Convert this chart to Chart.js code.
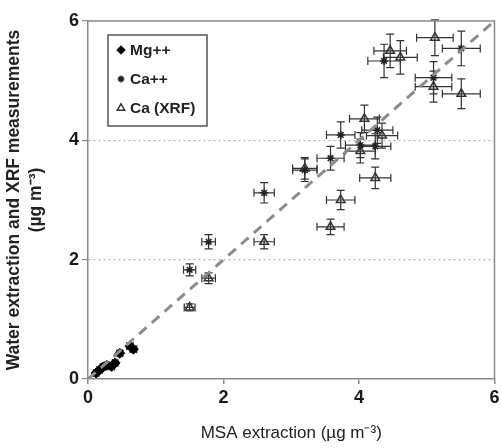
<!DOCTYPE html>
<html>
<head>
<meta charset="utf-8">
<script src="https://cdn.jsdelivr.net/npm/chart.js@4"></script>
<style>
html,body{margin:0;padding:0;background:#fff;}
#wrap{width:501px;height:448px;}
</style>
</head>
<body>
<div id="wrap"><canvas id="chart" width="501" height="448"></canvas></div>
<script>
// Mg++ (water extraction) vs MSA
const mgX   =[0.12,0.17,0.22,0.28,0.35,0.40,0.47,0.62,0.67];
const mgY   =[0.10,0.15,0.20,0.23,0.21,0.27,0.43,0.55,0.50];
const mgXErr=[0.04,0.04,0.04,0.04,0.04,0.04,0.04,0.05,0.05];
const mgYErr=[0.03,0.03,0.03,0.03,0.03,0.03,0.04,0.05,0.05];

// Ca++ (water extraction)
const caX   =[1.50,1.78,2.60,3.20,3.58,3.73,4.02,4.27,4.24,4.37,5.10,5.51];
const caY   =[1.83,2.30,3.12,3.50,3.70,4.09,3.92,4.17,3.90,5.33,5.05,5.54];
const caXErr=[0.09,0.10,0.15,0.18,0.20,0.21,0.22,0.23,0.23,0.24,0.27,0.28];
const caYErr=[0.10,0.12,0.17,0.19,0.20,0.22,0.21,0.22,0.21,0.28,0.27,0.29];

// Ca (XRF)
const xrfX   =[1.50,1.78,2.60,3.20,3.58,3.73,4.02,4.08,4.34,4.24,4.46,4.61,5.12,5.10,5.51];
const xrfY   =[1.20,1.69,2.30,3.53,2.55,3.00,3.82,4.36,4.08,3.37,5.50,5.39,5.72,4.90,4.78];
const xrfXErr=[0.08,0.10,0.15,0.18,0.20,0.21,0.22,0.22,0.23,0.23,0.24,0.25,0.27,0.27,0.28];
const xrfYErr=[0.06,0.09,0.12,0.18,0.13,0.16,0.20,0.23,0.21,0.18,0.28,0.28,0.30,0.26,0.25];

const oneToOne=[0,6];
const axisTicks=[0,2,4,6];

function pts(xs,ys,xe,ye){
    return xs.map((x,i)=>({x:x,y:ys[i],xe:xe[i],ye:ye[i]}));
}

// error bars drawn through the scales
const errorBars={
    id:"errorBars",
    beforeDatasetsDraw(chart){
        const ctx=chart.ctx;
        const xs=chart.scales.x, ys=chart.scales.y;
        ctx.save();
        ctx.strokeStyle="#333";
        ctx.lineWidth=1.2;
        chart.data.datasets.forEach(ds=>{
            if(ds.type==="line") return;
            ds.data.forEach(p=>{
                const px=xs.getPixelForValue(p.x), py=ys.getPixelForValue(p.y);
                const x0=xs.getPixelForValue(p.x-p.xe), x1=xs.getPixelForValue(p.x+p.xe);
                const y0=ys.getPixelForValue(p.y-p.ye), y1=ys.getPixelForValue(p.y+p.ye);
                const c=4;
                ctx.beginPath();
                ctx.moveTo(x0,py);ctx.lineTo(x1,py);
                ctx.moveTo(x0,py-c);ctx.lineTo(x0,py+c);
                ctx.moveTo(x1,py-c);ctx.lineTo(x1,py+c);
                ctx.moveTo(px,y0);ctx.lineTo(px,y1);
                ctx.moveTo(px-c,y0);ctx.lineTo(px+c,y0);
                ctx.moveTo(px-c,y1);ctx.lineTo(px+c,y1);
                ctx.stroke();
            });
        });
        ctx.restore();
    }
};

// frame + legend box inside plot
const frameLegend={
    id:"frameLegend",
    afterDraw(chart){
        const ctx=chart.ctx, a=chart.chartArea;
        ctx.save();
        ctx.strokeStyle="#8a8a8a";
        ctx.lineWidth=1.5;
        ctx.beginPath();
        ctx.moveTo(a.left,a.top);ctx.lineTo(a.right,a.top);ctx.lineTo(a.right,a.bottom);
        ctx.stroke();

        const bx=108,by=35,bw=99,bh=91;
        ctx.fillStyle="#fff";
        ctx.fillRect(bx,by,bw,bh);
        ctx.strokeStyle="#555";
        ctx.lineWidth=1.5;
        ctx.strokeRect(bx,by,bw,bh);
        ctx.font="bold 15.5px Arial, 'Liberation Sans', sans-serif";
        ctx.textBaseline="middle";
        const rows=[50,79,108];
        chart.data.datasets.filter(d=>d.type!=="line").forEach((ds,i)=>{
            const cy=rows[i];
            ctx.fillStyle=ds.backgroundColor;
            ctx.strokeStyle=ds.borderColor;
            ctx.lineWidth=ds.borderWidth;
            Chart.helpers.drawPoint(ctx,{
                pointStyle:ds.pointStyle,rotation:0,
                radius:ds.pointRadius*0.85,borderWidth:ds.borderWidth
            },121,cy);
            ctx.fillStyle="#222";
            ctx.fillText(ds.label,130,cy+1);
        });
        ctx.restore();
    }
};

const ctx=document.getElementById("chart").getContext("2d");
Chart.defaults.font.family="Arial, 'Liberation Sans', sans-serif";
Chart.defaults.color="#222";

new Chart(ctx,{
    type:"scatter",
    data:{
        datasets:[
            {
                type:"line",label:"1:1",
                data:oneToOne.map(v=>({x:v,y:v})),
                borderColor:"#8c8c8c",borderWidth:3,borderDash:[10,7],
                pointRadius:0,fill:false
            },
            {
                label:"Mg++",data:pts(mgX,mgY,mgXErr,mgYErr),
                pointStyle:"rectRot",pointRadius:5,
                backgroundColor:"#000",borderColor:"#000",borderWidth:1
            },
            {
                label:"Ca++",data:pts(caX,caY,caXErr,caYErr),
                pointStyle:"star",pointRadius:4,
                backgroundColor:"#222",borderColor:"#222",borderWidth:1.5
            },
            {
                label:"Ca (XRF)",data:pts(xrfX,xrfY,xrfXErr,xrfYErr),
                pointStyle:"triangle",pointRadius:5,
                backgroundColor:"rgba(255,255,255,0)",borderColor:"#333",borderWidth:1.5
            }
        ]
    },
    options:{
        responsive:false,
        animation:false,
        layout:{padding:{top:21,right:4,left:3,bottom:0}},
        plugins:{legend:{display:false},tooltip:{enabled:false}},
        scales:{
            x:{
                type:"linear",min:0,max:6,
                afterBuildTicks(s){s.ticks=axisTicks.map(v=>({value:v}));},
                afterFit(s){s.height=69;s.paddingRight=0;s.paddingLeft=0;},
                ticks:{font:{size:18,weight:"bold"},color:"#1a1a1a",padding:3,maxRotation:0},
                grid:{drawOnChartArea:false,tickLength:5,color:"#8a8a8a",lineWidth:1.5},
                border:{color:"#8a8a8a",width:1.5},
                title:{display:true,text:"MSA extraction (\u00b5g m\u207b\u00b3)",font:{size:17},color:"#222",padding:{top:12}}
            },
            y:{
                type:"linear",min:0,max:6,
                afterBuildTicks(s){s.ticks=axisTicks.map(v=>({value:v}));},
                afterFit(s){s.width=85;s.paddingTop=0;s.paddingBottom=0;},
                ticks:{font:{size:18,weight:"bold"},color:"#1a1a1a",padding:3},
                grid:{
                    color:c=>(c.tick.value===0||c.tick.value===6)?"rgba(0,0,0,0)":"#b5b5b5",
                    tickColor:"#8a8a8a",tickLength:6,lineWidth:1.2,tickBorderDash:[]
                },
                border:{color:"#8a8a8a",width:1.5,dash:[2,3]},
                title:{display:true,text:["Water extraction and XRF measurements","(\u00b5g m\u207b\u00b3)"],
                       font:{size:17.5,weight:"bold",lineHeight:1.25},color:"#222",padding:{top:0,bottom:2}}
            }
        }
    },
    plugins:[errorBars,frameLegend]
});
</script>
</body>
</html>
